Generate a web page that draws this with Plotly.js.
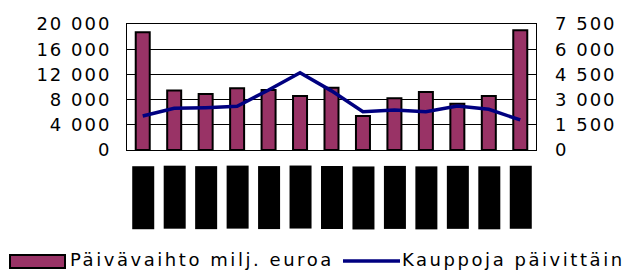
<!DOCTYPE html>
<html>
<head>
<meta charset="utf-8">
<script src="https://cdn.plot.ly/plotly-3.0.1.min.js"></script>
<style>
  html, body { margin: 0; padding: 0; background: #fff; }
  #chart { width: 625px; height: 271px; }
  .ytick text, .y2tick text { letter-spacing: 2px; }
  .annotation[data-index="0"] text, .annotation[data-index="1"] text { letter-spacing: 2.55px; }
</style>
</head>
<body>
<div id="chart"></div>
<script>
// ---- data ----
const categories = ['12/2006', '1/2007', '2/2007', '3/2007', '4/2007', '5/2007', '6/2007',
                    '7/2007', '8/2007', '9/2007', '10/2007', '11/2007', '12/2007'];
const turnover = [18700, 9450, 8870, 9790, 9520, 8560, 9870, 5400, 8220, 9200, 7330, 8560, 19000];
const trades = [2020, 2480, 2520, 2600, 3570, 4600, 3520, 2280, 2380, 2280, 2620, 2420, 1790];
const seriesNames = ['Päivävaihto milj. euroa', 'Kauppoja päivittäin'];

const barColor = '#993366';
const lineColor = '#000080';
const font = 'DejaVu Sans, Verdana, sans-serif';

const traces = [
  {
    type: 'bar', x: categories, y: turnover, name: seriesNames[0],
    marker: { color: barColor, line: { color: '#000', width: 2 } },
    yaxis: 'y', showlegend: false, hoverinfo: 'none'
  },
  {
    type: 'scatter', mode: 'lines', x: categories, y: trades, name: seriesNames[1],
    line: { color: lineColor, width: 3.5 },
    yaxis: 'y2', showlegend: false, hoverinfo: 'none'
  }
];

// paper-coordinate helpers (plot area: left 127, top 24, width 409, height 126)
const PL = 127, PT = 24, PW = 409, PH = 126;
const px = v => (v - PL) / PW;
const py = v => (PT + PH - v) / PH;

const annotations = [
  { text: seriesNames[0], xref: 'paper', yref: 'paper', x: px(68), y: py(259),
    xanchor: 'left', yanchor: 'middle', align: 'left', showarrow: false,
    font: { family: font, size: 18, color: '#000' } },
  { text: seriesNames[1], xref: 'paper', yref: 'paper', x: px(400), y: py(259),
    xanchor: 'left', yanchor: 'middle', align: 'left', showarrow: false,
    font: { family: font, size: 18, color: '#000' } }
];
categories.forEach(c => {
  annotations.push({
    text: c, x: c, xref: 'x', yref: 'paper', y: py(166),
    xanchor: 'center', yanchor: 'top', textangle: -90, showarrow: false,
    width: 63, height: 22, borderpad: 0, borderwidth: 0,
    bgcolor: '#000', font: { family: font, size: 13, color: '#000' }
  });
});

const shapes = [
  { type: 'rect', xref: 'paper', yref: 'paper', x0: px(10), x1: px(65), y0: py(268), y1: py(255),
    fillcolor: barColor, line: { color: '#000', width: 2 } },
  { type: 'line', xref: 'paper', yref: 'paper', x0: px(343), x1: px(400), y0: py(261), y1: py(261),
    line: { color: lineColor, width: 3.5 } }
];

const layout = {
  width: 625, height: 271,
  margin: { l: PL, r: 625 - PL - PW, t: PT, b: 271 - PT - PH, pad: 0 },
  paper_bgcolor: '#fff', plot_bgcolor: '#fff',
  separators: ', ',
  showlegend: false,
  bargap: 0.555,
  font: { family: font, size: 18, color: '#000' },
  xaxis: {
    type: 'category', showticklabels: false, ticks: '',
    showline: true, mirror: true, linecolor: '#000', linewidth: 1,
    showgrid: false, zeroline: false, fixedrange: true
  },
  yaxis: {
    range: [0, 20000], dtick: 4000, tick0: 0, tickformat: ',d',
    showgrid: true, gridcolor: '#000', gridwidth: 1,
    showline: true, mirror: true, linecolor: '#000', linewidth: 1,
    zeroline: false, ticks: '', ticklabelstandoff: 11,
    tickfont: { family: font, size: 18, color: '#000' }, fixedrange: true
  },
  yaxis2: {
    overlaying: 'y', side: 'right',
    range: [0, 7500], dtick: 1500, tick0: 0, tickformat: ',d',
    showgrid: false, zeroline: false, showline: false, ticks: '', ticklabelstandoff: 18,
    tickfont: { family: font, size: 18, color: '#000' }, fixedrange: true
  },
  annotations: annotations,
  shapes: shapes
};

Plotly.newPlot('chart', traces, layout, { staticPlot: true, displayModeBar: false });
</script>
</body>
</html>
